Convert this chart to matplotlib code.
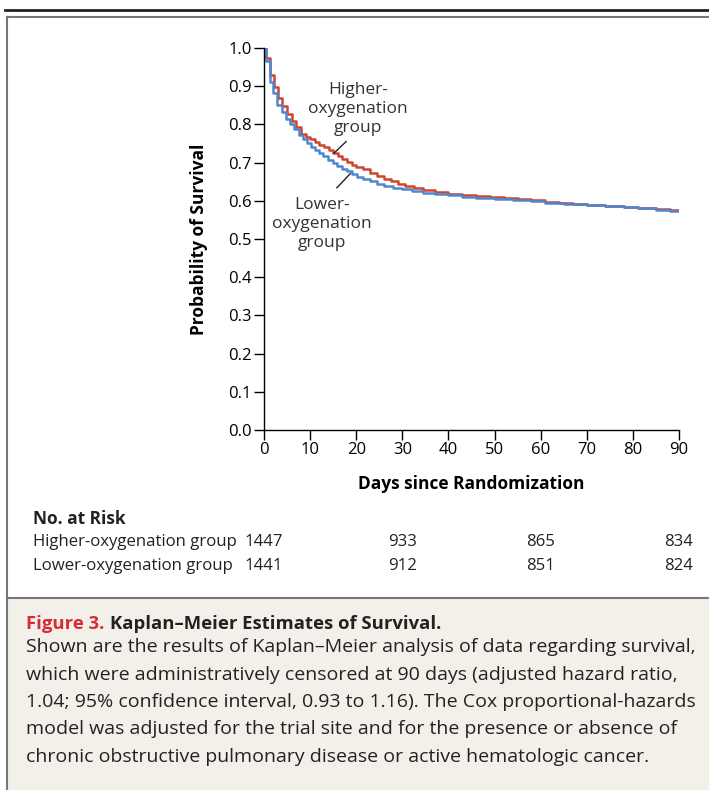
import matplotlib
matplotlib.use("Agg")
import matplotlib.pyplot as plt
from matplotlib.lines import Line2D
from matplotlib.patches import Rectangle
from matplotlib.transforms import blended_transform_factory

plt.rcParams["font.family"] = ["Open Sans", "DejaVu Sans"]

# Kaplan-Meier steps (day, survival)
days_high = [0, 0.4, 1.2, 2.1, 3.0, 4.0, 5.0, 6.0, 7.0, 8.0, 9.0, 10.0, 11.0, 12.0,
             13.0, 14.0, 15.0, 16.0, 17.0, 18.0, 19.0, 20.0, 21.5, 23.0, 24.5, 26.0,
             27.5, 29.0, 30.5, 32.5, 34.5, 37, 40, 43, 46, 49, 52, 55, 58, 61, 64,
             67, 70, 74, 78, 81, 85, 88, 90]
surv_high = [1.0, 0.975, 0.93, 0.899, 0.869, 0.848, 0.828, 0.81, 0.792, 0.776, 0.767,
             0.761, 0.754, 0.747, 0.740, 0.732, 0.725, 0.717, 0.710, 0.702, 0.695,
             0.689, 0.682, 0.674, 0.665, 0.658, 0.651, 0.645, 0.640, 0.634, 0.628,
             0.623, 0.619, 0.615, 0.612, 0.609, 0.607, 0.604, 0.601, 0.597, 0.594,
             0.591, 0.589, 0.587, 0.585, 0.582, 0.579, 0.577, 0.576]

days_low = [0, 0.4, 1.2, 2.0, 2.9, 3.9, 4.8, 5.7, 6.6, 7.5, 8.4, 9.3, 10.2, 11.1,
            12.0, 12.9, 13.9, 14.9, 15.9, 16.9, 17.9, 19.0, 20.1, 21.5, 23.0, 24.5,
            26.0, 28, 30, 32, 34.5, 37, 40, 43, 46, 50, 54, 58, 61, 65, 70, 74, 78,
            81, 85, 88, 90]
surv_low = [1.0, 0.965, 0.912, 0.882, 0.852, 0.833, 0.813, 0.80, 0.787, 0.773, 0.762,
            0.752, 0.742, 0.733, 0.724, 0.716, 0.707, 0.699, 0.691, 0.684, 0.677,
            0.670, 0.663, 0.657, 0.651, 0.644, 0.639, 0.634, 0.630, 0.626, 0.621,
            0.617, 0.614, 0.611, 0.608, 0.604, 0.602, 0.599, 0.595, 0.592, 0.589,
            0.587, 0.585, 0.581, 0.577, 0.574, 0.573]

# No. at risk table
risk_days = [0, 30, 60, 90]
risk_high = [1447, 933, 865, 834]
risk_low = [1441, 912, 851, 824]
risk_labels = ["Higher-oxygenation group", "Lower-oxygenation group"]

caption_lines = [
    "Shown are the results of Kaplan\u2013Meier analysis of data regarding survival,",
    "which were administratively censored at 90 days (adjusted hazard ratio,",
    "1.04; 95% confidence interval, 0.93 to 1.16). The Cox proportional-hazards",
    "model was adjusted for the trial site and for the presence or absence of",
    "chronic obstructive pulmonary disease or active hematologic cancer.",
]

red = "#d0452e"
blue = "#4f86cf"
W, H = 709, 790

fig = plt.figure(figsize=(7.09, 7.90), dpi=100)
ax = fig.add_axes([264 / W, 1 - 430 / H, 415 / W, 382 / H])

ax.step(days_high, surv_high, where="post", color=red, lw=1.8)
ax.step(days_low, surv_low, where="post", color=blue, lw=1.8)

ax.set_xlim(0, 90)
ax.set_ylim(0, 1.0)
ax.set_xticks(range(0, 91, 10))
ax.set_yticks([i / 10 for i in range(11)])
ax.set_yticklabels(["%.1f" % (i / 10) for i in range(11)])
ax.tick_params(direction="out", length=7, width=1, labelsize=12, pad=2)
for s in ["top", "right"]:
    ax.spines[s].set_visible(False)
for s in ["left", "bottom"]:
    ax.spines[s].set_linewidth(1)
ax.set_ylabel("Probability of Survival", fontsize=12.5, fontweight="bold", labelpad=14)
ax.set_xlabel("Days since Randomization", fontsize=12.5, fontweight="bold", labelpad=12)

# group labels with leader lines
ax.text(20.4, 0.84, "Higher-\noxygenation\ngroup", ha="center", va="center",
        fontsize=12.5, linespacing=1.25, color="#333333")
ax.plot([15.2, 17.8], [0.725, 0.755], color="#222222", lw=1)
ax.text(12.6, 0.54, "Lower-\noxygenation\ngroup", ha="center", va="center",
        fontsize=12.5, linespacing=1.25, color="#333333")
ax.plot([15.8, 18.7], [0.634, 0.671], color="#222222", lw=1)

# frame
fig.add_artist(Line2D([5 / W, 1], [1 - 10 / H, 1 - 10 / H], color="#222222", lw=2))
fig.add_artist(Line2D([7 / W, 1], [1 - 17 / H, 1 - 17 / H], color="#777777", lw=1.5))
fig.add_artist(Line2D([7 / W, 7 / W], [0, 1 - 17 / H], color="#777777", lw=1.5))
fig.add_artist(Rectangle((8 / W, 0), 1, 1 - 598 / H, color="#f3f0ea", zorder=0))
fig.add_artist(Line2D([7 / W, 1], [1 - 598 / H, 1 - 598 / H], color="#777777", lw=1.5))

# number at risk
fig.text(33 / W, 1 - 519 / H, "No. at Risk", fontsize=12.5, fontweight="bold",
         va="center", color="#222222")
mixed = blended_transform_factory(ax.transData, fig.transFigure)
rows = [risk_high, risk_low]
for i, (lab, vals) in enumerate(zip(risk_labels, rows)):
    yy = 1 - (542 + 24 * i) / H
    fig.text(33 / W, yy, lab, fontsize=12.1, va="center", color="#222222")
    for d, v in zip(risk_days, vals):
        ax.text(d, yy, str(v), transform=mixed, ha="center", va="center",
                fontsize=12.1, color="#222222")

# caption
fig.text(26 / W, 1 - 624 / H, "Figure 3.", fontsize=13.3, fontweight="bold",
         color="#d62c36", va="center")
fig.text(110 / W, 1 - 624 / H, "Kaplan\u2013Meier Estimates of Survival.", fontsize=13.3,
         fontweight="bold", color="#222222", va="center")
for i, line in enumerate(caption_lines):
    fig.text(26 / W, 1 - (647 + 27.5 * i) / H, line, fontsize=14, color="#222222",
             va="center")

fig.savefig("out.png", dpi=100)
